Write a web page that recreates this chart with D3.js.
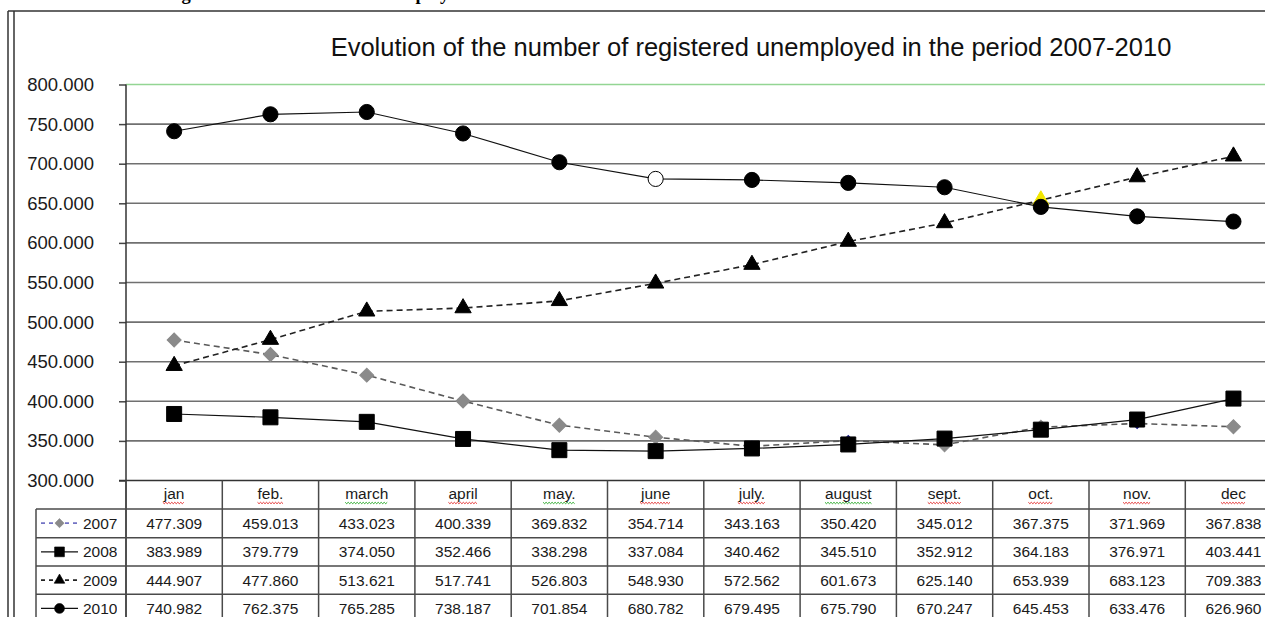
<!DOCTYPE html>
<html>
<head>
<meta charset="utf-8">
<script src="https://cdn.jsdelivr.net/npm/d3@7"></script>
<style>
  body { margin: 0; background: #fff; }
  svg { display: block; font-family: Arial, "Liberation Sans", sans-serif; }
</style>
</head>
<body>
<div id="chart"></div>
<script>
// data (values also printed in its table)
var months = ["jan", "feb.", "march", "april", "may.", "june", "july.", "august", "sept.", "oct.", "nov.", "dec"];
var years = ["2007", "2008", "2009", "2010"];
var values2007 = [477309, 459013, 433023, 400339, 369832, 354714, 343163, 350420, 345012, 367375, 371969, 367838];
var values2008 = [383989, 379779, 374050, 352466, 338298, 337084, 340462, 345510, 352912, 364183, 376971, 403441];
var values2009 = [444907, 477860, 513621, 517741, 526803, 548930, 572562, 601673, 625140, 653939, 683123, 709383];
var values2010 = [740982, 762375, 765285, 738187, 701854, 680782, 679495, 675790, 670247, 645453, 633476, 626960];
var yTicks = [300000, 350000, 400000, 450000, 500000, 550000, 600000, 650000, 700000, 750000, 800000];
var title = "Evolution of the number of registered unemployed in the period 2007-2010";
var caption = "Figure 2. Evolution of the unemployed";

var width = 1265, height = 617;
var plotLeft = 126, colW = 96.3, plotTop = 84.5, plotBottom = 480.5;
var rowTops = [509, 537.7, 566, 594.3], rowH = 28.3;

// spell-check underline colour in the header row (red or green)
var squiggle = {"march": "#1aa31a", "may.": "#1aa31a", "august": "#1aa31a"};

var fmt = d3.formatLocale({decimal: ",", thousands: ".", grouping: [3], currency: ["", ""]}).format(",");

var xScale = d3.scaleBand()
    .domain(months)
    .range([plotLeft, plotLeft + 12 * colW]);

var yScale = d3.scaleLinear()
    .domain([300000, 800000])
    .range([plotBottom, plotTop]);

var svg = d3.select("#chart").append("svg")
    .attr("width", width)
    .attr("height", height);

// caption of the page, cut off by the top edge
svg.append("text")
    .attr("x", 165)
    .attr("y", 0)
    .attr("font-family", "'Liberation Serif', 'Times New Roman', serif")
    .attr("font-weight", "bold")
    .attr("font-size", 18.5)
    .attr("fill", "#000")
    .text(caption);

// double frame
svg.append("line").attr("x1", 8).attr("x2", width).attr("y1", 11).attr("y2", 11)
    .attr("stroke", "#333").attr("stroke-width", 1.5);
svg.append("line").attr("x1", 8).attr("x2", 8).attr("y1", 11).attr("y2", height)
    .attr("stroke", "#333").attr("stroke-width", 1.5);
svg.append("line").attr("x1", 14).attr("x2", 14).attr("y1", 11).attr("y2", height)
    .attr("stroke", "#333").attr("stroke-width", 1.5);

// title
svg.append("text")
    .attr("x", 751)
    .attr("y", 56)
    .attr("text-anchor", "middle")
    .attr("font-size", 25.5)
    .attr("fill", "#111")
    .text(title);

// gridlines
svg.append("g")
    .selectAll("line")
    .data(yTicks.filter(function(t) { return t > 300000; }))
    .enter().append("line")
    .attr("x1", plotLeft)
    .attr("x2", width)
    .attr("y1", function(d) { return yScale(d); })
    .attr("y2", function(d) { return yScale(d); })
    .attr("stroke", function(d) { return d == 800000 ? "#93d593" : "#707070"; })
    .attr("stroke-width", function(d) { return d == 800000 ? 1.3 : 1.6; });

// y axis: ticks and labels
var yAxis = svg.append("g")
    .attr("transform", "translate(" + plotLeft + ",0)")
    .call(d3.axisLeft(yScale).tickValues(yTicks).tickSize(7).tickPadding(25).tickFormat(fmt));
yAxis.select(".domain").remove();
yAxis.selectAll(".tick line").attr("stroke", "#444").attr("stroke-width", 1.5);
yAxis.selectAll(".tick text")
    .attr("font-size", 18.5)
    .attr("font-family", "Arial, 'Liberation Sans', sans-serif")
    .attr("fill", "#1a1a1a");

// axis line and x axis line
svg.append("line").attr("x1", plotLeft).attr("x2", plotLeft).attr("y1", plotTop).attr("y2", height)
    .attr("stroke", "#333").attr("stroke-width", 1.5);
svg.append("line").attr("x1", plotLeft - 7).attr("x2", width).attr("y1", plotBottom).attr("y2", plotBottom)
    .attr("stroke", "#333").attr("stroke-width", 1.5);

// series styles
var cx = function(i) { return xScale(months[i]) + xScale.bandwidth() / 2; };

var diamond = d3.symbol().type(d3.symbolSquare).size(98);
var diamondSmall = d3.symbol().type(d3.symbolSquare).size(50);
var square = d3.symbol().type(d3.symbolSquare).size(225);
var triangle = d3.symbol().type(d3.symbolTriangle).size(115);
var circle = d3.symbol().type(d3.symbolCircle).size(180);

var series = [
    {year: "2007", values: values2007, line: "#5a5a5a", dash: "6,4", width: 1.6, legendLine: "#7373c4",
     marker: diamond, rotate: 45, fill: "#8a8a8a", stroke: "#8a8a8a"},
    {year: "2008", values: values2008, line: "#111", dash: null, width: 1.2, legendLine: "#111",
     marker: square, rotate: 0, fill: "#000", stroke: "#000"},
    {year: "2009", values: values2009, line: "#222", dash: "6,4", width: 1.6, legendLine: "#222",
     marker: triangle, rotate: 0, fill: "#000", stroke: "#000"},
    {year: "2010", values: values2010, line: "#111", dash: null, width: 1.2, legendLine: "#111",
     marker: circle, rotate: 0, fill: "#000", stroke: "#000"}
];

// single points that were formatted differently in the original sheet
var pointStyle = {
    "2007-6": {marker: diamondSmall, fill: "#1a1a8c", stroke: "#1a1a8c"},
    "2007-7": {marker: diamondSmall, fill: "#1a1a8c", stroke: "#1a1a8c"},
    "2007-10": {marker: diamondSmall, fill: "#1a1a8c", stroke: "#1a1a8c"},
    "2009-9": {fill: "#f2e600", stroke: "#f2e600"},
    "2010-5": {fill: "#fff", stroke: "#000"}
};

series.forEach(function(s) {
    var line = d3.line()
        .x(function(d, i) { return cx(i); })
        .y(function(d) { return yScale(d); });

    svg.append("path")
        .datum(s.values)
        .attr("fill", "none")
        .attr("stroke", s.line)
        .attr("stroke-width", s.width)
        .attr("stroke-dasharray", s.dash)
        .attr("d", line);

    svg.append("g")
        .selectAll("path")
        .data(s.values)
        .enter().append("path")
        .attr("d", function(d, i) {
            var o = pointStyle[s.year + "-" + i] || {};
            return (o.marker || s.marker)();
        })
        .attr("transform", function(d, i) {
            return "translate(" + cx(i) + "," + yScale(d) + ") rotate(" + s.rotate + ")";
        })
        .attr("fill", function(d, i) {
            var o = pointStyle[s.year + "-" + i] || {};
            return o.fill || s.fill;
        })
        .attr("stroke", function(d, i) {
            var o = pointStyle[s.year + "-" + i] || {};
            return o.stroke || s.stroke;
        })
        .attr("stroke-width", 1);
});

// data table under the plot
var table = svg.append("g");
var lineColor = "#4a4a4a";

// vertical lines
table.selectAll("line.v")
    .data(d3.range(13))
    .enter().append("line")
    .attr("class", "v")
    .attr("x1", function(i) { return plotLeft + i * colW; })
    .attr("x2", function(i) { return plotLeft + i * colW; })
    .attr("y1", plotBottom)
    .attr("y2", height)
    .attr("stroke", lineColor)
    .attr("stroke-width", 1.5);
table.append("line").attr("x1", 36).attr("x2", 36).attr("y1", rowTops[0]).attr("y2", height)
    .attr("stroke", lineColor).attr("stroke-width", 1.5);

// horizontal lines
table.selectAll("line.h")
    .data(rowTops)
    .enter().append("line")
    .attr("class", "h")
    .attr("x1", 36)
    .attr("x2", width)
    .attr("y1", function(d) { return d; })
    .attr("y2", function(d) { return d; })
    .attr("stroke", lineColor)
    .attr("stroke-width", 1.5);

// header row
var head = table.selectAll("g.head")
    .data(months)
    .enter().append("g")
    .attr("class", "head");
head.append("text")
    .attr("x", function(d) { return xScale(d) + xScale.bandwidth() / 2; })
    .attr("y", 499)
    .attr("text-anchor", "middle")
    .attr("font-size", 15.5)
    .attr("fill", "#1a1a1a")
    .text(function(d) { return d; });
head.each(function(d) {
    var g = d3.select(this);
    var bb = g.select("text").node().getBBox();
    var pts = [];
    for (var px = bb.x; px <= bb.x + bb.width; px += 1.5) {
        pts.push([px, 502.5 + (Math.round((px - bb.x) / 1.5) % 2 ? 1.2 : -0.2)]);
    }
    g.append("path")
        .attr("d", d3.line()(pts))
        .attr("fill", "none")
        .attr("stroke", squiggle[d] || "#e02020")
        .attr("stroke-width", 0.9);
});

// value rows; the legend cell is narrower than its label, which gets clipped
var clip = svg.append("clipPath").attr("id", "legclip");
clip.append("rect").attr("x", 36).attr("y", rowTops[0]).attr("width", 81).attr("height", height);

series.forEach(function(s, r) {
    var midY = rowTops[r] + rowH / 2;
    table.append("g")
        .selectAll("text")
        .data(s.values)
        .enter().append("text")
        .attr("x", function(d, i) { return cx(i); })
        .attr("y", midY + 5.5)
        .attr("text-anchor", "middle")
        .attr("font-size", 15.5)
        .attr("fill", "#1a1a1a")
        .text(function(d) { return fmt(d); });

    // legend key
    var key = table.append("g").attr("clip-path", "url(#legclip)");
    key.append("line")
        .attr("x1", 41).attr("x2", 78).attr("y1", midY).attr("y2", midY)
        .attr("stroke", s.legendLine)
        .attr("stroke-width", s.width)
        .attr("stroke-dasharray", s.dash ? "4,4" : null);
    key.append("path")
        .attr("d", s.marker())
        .attr("transform", "translate(59.5," + midY + ") rotate(" + s.rotate + ") scale(0.65)")
        .attr("fill", s.fill)
        .attr("stroke", s.stroke);
    key.append("text")
        .attr("x", 83)
        .attr("y", midY + 5.5)
        .attr("font-size", 15.5)
        .attr("fill", "#1a1a1a")
        .text(s.year);
});
</script>
</body>
</html>
